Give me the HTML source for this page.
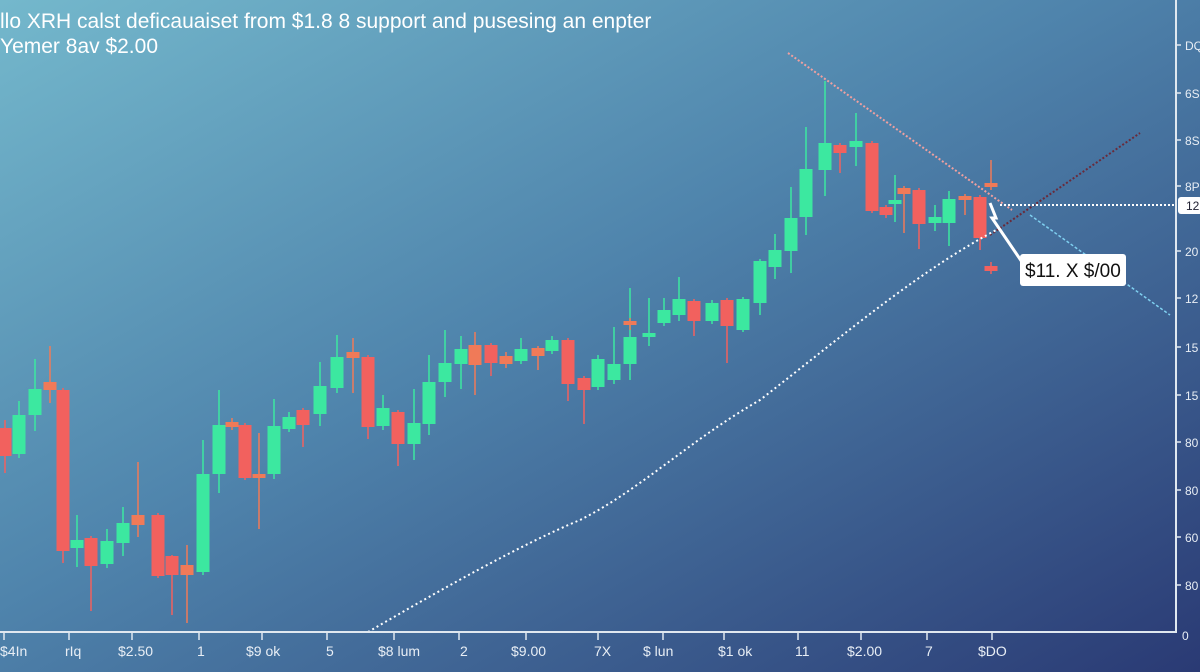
<!DOCTYPE html>
<html><head><meta charset="utf-8"><style>
html,body{margin:0;padding:0;width:1200px;height:672px;overflow:hidden}
svg{display:block}
text{font-family:"Liberation Sans",sans-serif}
</style></head><body>
<svg width="1200" height="672" viewBox="0 0 1200 672" xmlns="http://www.w3.org/2000/svg">
<defs>
<linearGradient id="bg" x1="0" y1="0" x2="1" y2="1">
<stop offset="0" stop-color="#74b8cc"/>
<stop offset="0.45" stop-color="#4f84ac"/>
<stop offset="1" stop-color="#2a3a74"/>
</linearGradient>
</defs>
<rect width="1200" height="672" fill="url(#bg)"/>
<text x="0" y="28" fill="#fff" font-size="21">llo  XRH calst deficauaiset from $1.8 8 support and pusesing an enpter</text>
<text x="0" y="53" fill="#fff" font-size="21">Yemer 8av $2.00</text>

<g id="c" stroke-width="1.5"></g>

<line x1="788" y1="53" x2="1012" y2="210" stroke="#f0a0a0" stroke-width="2" stroke-dasharray="2,2"/>
<line x1="1030" y1="215" x2="1170" y2="315" stroke="#7fd0f0" stroke-width="1.5" stroke-dasharray="3,2"/>
<line x1="990" y1="235" x2="1140" y2="133" stroke="#6a2a3a" stroke-width="2" stroke-dasharray="2,2"/>
<path d="M368,632 C440,590 520,545 580,520 C640,490 690,440 760,400 C850,330 920,270 1000,228" fill="none" stroke="#fff" stroke-width="2" stroke-dasharray="2,3"/>
<line x1="1000" y1="205" x2="1176" y2="205" stroke="#fff" stroke-width="2" stroke-dasharray="2,2"/>
<path d="M990,203 L996,218 L992,218 L1022,262" fill="none" stroke="#fff" stroke-width="3"/>
<rect x="1020" y="254" width="106" height="32" rx="3" fill="#fff"/>
<text x="1025" y="277" font-size="19" fill="#111">$11. X $/00</text>

<line x1="1176" y1="0" x2="1176" y2="633" stroke="#e0e8f0" stroke-width="2"/>
<line x1="0" y1="632" x2="1177" y2="632" stroke="#e0e8f0" stroke-width="2"/>
<g fill="#e8eef5" font-size="12">
<text x="1185" y="50">DQ</text><text x="1185" y="98">6S</text><text x="1185" y="145">8S</text><text x="1185" y="191">8P</text>
<text x="1185" y="256">20</text><text x="1185" y="303">12</text><text x="1185" y="352">15</text><text x="1185" y="400">15</text>
<text x="1185" y="447">80</text><text x="1185" y="495">80</text><text x="1185" y="542">60</text><text x="1185" y="590">80</text>
<text x="1182" y="640">0</text>
</g>
<rect x="1178" y="197" width="24" height="17" rx="3" fill="#fff"/>
<text x="1186" y="210" font-size="12" fill="#223">12</text>
<g stroke="#e0e8f0" stroke-width="1.5">
<line x1="1176" y1="45" x2="1181" y2="45"/><line x1="1176" y1="93" x2="1181" y2="93"/><line x1="1176" y1="140" x2="1181" y2="140"/><line x1="1176" y1="186" x2="1181" y2="186"/><line x1="1176" y1="251" x2="1181" y2="251"/><line x1="1176" y1="298" x2="1181" y2="298"/><line x1="1176" y1="347" x2="1181" y2="347"/><line x1="1176" y1="395" x2="1181" y2="395"/><line x1="1176" y1="442" x2="1181" y2="442"/><line x1="1176" y1="490" x2="1181" y2="490"/><line x1="1176" y1="537" x2="1181" y2="537"/><line x1="1176" y1="585" x2="1181" y2="585"/>
</g>
<g id="xt" stroke="#e0e8f0" stroke-width="1.5"></g>
<g fill="#e8eef5" font-size="14">
<text x="0" y="656">$4In</text><text x="65" y="656">rIq</text><text x="118" y="656">$2.50</text><text x="197" y="656">1</text>
<text x="246" y="656">$9 ok</text><text x="326" y="656">5</text><text x="378" y="656">$8 lum</text><text x="460" y="656">2</text>
<text x="511" y="656">$9.00</text><text x="594" y="656">7X</text><text x="643" y="656">$ lun</text><text x="718" y="656">$1 ok</text>
<text x="795" y="656">11</text><text x="847" y="656">$2.00</text><text x="925" y="656">7</text><text x="978" y="656">$DO</text>
</g>
</svg>
<script>
var R="#f2615e",G="#3ce8a0",O="#f07a58";
var d=[
[5,428,456,420,473,R],[19,415,454,401,458,G],[35,389,415,359,431,G],[50,382,390,346,403,O],[63,390,551,388,563,R],
[77,540,548,515,567,G],[91,538,566,536,611,R],[107,541,564,529,568,G],[123,523,543,507,556,G],[138,515,525,462,537,O],
[158,515,576,513,578,R],[172,556,575,555,615,R],[187,565,575,545,623,O],[203,474,572,440,575,G],[219,425,474,390,493,G],
[232,422,427,418,430,O],[245,425,478,423,480,R],[259,474,478,433,529,O],[274,426,474,399,479,G],[289,417,429,412,432,G],
[303,410,425,408,447,R],[320,386,414,362,426,G],[337,357,388,335,393,G],[353,352,358,338,393,O],[368,357,427,355,439,R],
[383,408,426,395,430,G],[398,412,444,410,466,R],[414,423,444,389,460,G],[429,382,424,355,435,G],[445,363,382,330,397,G],
[461,349,364,336,389,G],[475,345,365,332,395,O],[491,345,363,343,376,R],[506,356,364,352,368,O],[521,349,361,338,364,G],
[538,348,356,346,370,O],[552,340,351,336,354,G],[568,340,384,338,401,R],[584,378,390,376,424,R],[598,359,387,355,390,G],
[614,364,380,327,384,G],[630,337,364,288,380,G],[630,321,325,318,330,O],[649,333,337,298,346,G],[664,310,323,298,326,G],
[679,299,315,277,321,G],[694,301,321,299,336,R],[712,303,321,300,324,G],[727,300,326,298,363,R],[743,299,330,297,332,G],
[760,261,303,259,315,G],[775,250,267,234,279,G],[791,218,251,187,273,G],[806,169,217,127,235,G],[825,143,170,81,196,G],
[840,145,153,143,173,R],[856,141,147,113,166,G],[872,143,211,141,213,R],[886,207,215,205,218,R],[895,200,204,175,222,G],
[904,188,194,186,233,O],[919,190,224,188,249,R],[935,217,223,205,231,G],[949,199,223,191,246,G],[965,196,200,194,215,O],
[980,197,238,195,250,R],[991,183,187,160,190,O],[991,266,271,262,274,R]];
var g=document.getElementById("c"),s="";
d.forEach(function(c){var w=13;
s+='<line x1="'+c[0]+'" y1="'+c[3]+'" x2="'+c[0]+'" y2="'+c[4]+'" stroke="'+c[5]+'"/>';
s+='<rect x="'+(c[0]-w/2)+'" y="'+c[1]+'" width="'+w+'" height="'+Math.max(3,c[2]-c[1])+'" fill="'+c[5]+'"/>';});
g.innerHTML=s;
var xt=[4,69,132,199,262,327,394,459,526,598,663,724,798,861,927,992],t="";
xt.forEach(function(x){t+='<line x1="'+x+'" y1="632" x2="'+x+'" y2="640"/>';});
document.getElementById("xt").innerHTML=t;
</script>
</body></html>
